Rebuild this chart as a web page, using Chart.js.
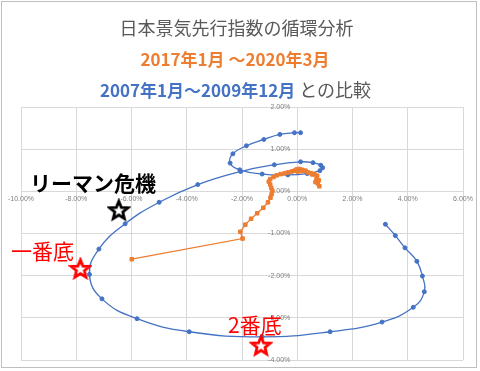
<!DOCTYPE html>
<html><head><meta charset="utf-8">
<script src="https://cdn.jsdelivr.net/npm/chart.js@4/dist/chart.umd.min.js"></script>
<style>
html,body{margin:0;padding:0;background:#fff;}
#wrap{position:relative;width:480px;height:371px;overflow:hidden;font-family:"Noto Sans CJK JP","Noto Sans",sans-serif;}
#frame{position:absolute;left:1px;top:1px;width:476px;height:367px;border:1px solid #bfbfbf;box-sizing:border-box;}
canvas{position:absolute;left:0;top:0;}
.t{position:absolute;white-space:nowrap;line-height:1;}
</style></head>
<body>
<div id="wrap">
  <div id="frame"></div>
  <canvas id="c" width="480" height="371"></canvas>
  <div class="t" style="left:0;width:473px;text-align:center;top:18px;font-size:18px;color:#595959;">日本景気先行指数の循環分析</div>
  <div class="t" style="left:0;width:470px;text-align:center;top:50px;font-size:17px;font-weight:bold;color:#ED7D31;">2017年1月 ～2020年3月</div>
  <div class="t" style="left:0;width:471px;text-align:center;top:80px;font-size:17px;"><span style="color:#4472C4;font-weight:bold;">2007年1月～2009年12月</span><span style="color:#595959;font-size:18px;"> との比較</span></div>
  <div class="t" style="left:30px;top:172px;font-size:21px;font-weight:bold;color:#000;">リーマン危機</div>
  <div class="t" style="left:11px;top:240px;font-size:21px;color:#FF0000;">一番底</div>
  <div class="t" style="left:228px;top:314px;font-size:21px;color:#FF0000;">2番底</div>
</div>
<script>
// 2007年1月～2009年12月 (blue)
const blueX = [0.12,-0.10,-0.63,-1.21,-1.84,-2.33,-2.43,-2.08,-1.27,-0.34,0.36,0.82,0.92,0.85,0.57,0.12,-0.83,-2.05,-3.60,-5.00,-6.23,-7.18,-7.52,-7.07,-5.80,-3.91,-1.27,1.19,3.07,4.20,4.60,4.53,4.33,3.90,3.55,3.19];
const blueY = [1.39,1.39,1.35,1.23,1.08,0.89,0.67,0.51,0.41,0.39,0.42,0.49,0.56,0.62,0.68,0.70,0.63,0.47,0.16,-0.26,-0.77,-1.37,-1.97,-2.55,-3.02,-3.33,-3.45,-3.33,-3.10,-2.75,-2.38,-2.01,-1.66,-1.34,-1.05,-0.78];
// 2017年1月～2020年3月 (orange)
const orangeX = [0.80,0.74,0.66,0.78,0.70,0.72,0.62,0.55,0.50,0.38,0.30,0.18,0.08,-0.02,0.06,0.16,0.02,-0.10,-0.20,-0.32,-0.45,-0.60,-0.74,-0.86,-0.98,-1.03,-0.98,-0.94,-0.90,-0.93,-0.97,-1.06,-1.23,-1.45,-1.67,-1.88,-2.06,-1.98,-5.99];
const orangeY = [0.12,0.19,0.22,0.26,0.31,0.37,0.41,0.40,0.43,0.45,0.49,0.51,0.53,0.52,0.50,0.48,0.47,0.49,0.47,0.45,0.43,0.41,0.38,0.34,0.29,0.23,0.16,0.08,0.01,-0.07,-0.15,-0.26,-0.39,-0.52,-0.65,-0.79,-0.96,-1.12,-1.61];
// annotation stars
const blackStarX = [-6.46];
const blackStarY = [-0.45];
const redStarX = [-7.85,-1.31];
const redStarY = [-1.84,-3.66];
// axis ticks
const xTickMin = -10, xTickMax = 6, xTickStep = 2;
const yTickMin = -4, yTickMax = 2, yTickStep = 1;

function pts(xs, ys){ return xs.map((x,i)=>({x:x, y:ys[i]})); }
function starImg(color){
  const c = document.createElement('canvas');
  c.width = 24; c.height = 24;
  const g = c.getContext('2d');
  const cx = 12, cy = 12.5, R = 9.5, r = 4.2;
  g.beginPath();
  for (let i=0;i<10;i++){
    const ang = -Math.PI/2 + i*Math.PI/5;
    const rr = (i%2===0)?R:r;
    const px = cx + rr*Math.cos(ang), py = cy + rr*Math.sin(ang);
    if(i===0) g.moveTo(px,py); else g.lineTo(px,py);
  }
  g.closePath();
  g.fillStyle = '#fff'; g.fill();
  g.lineWidth = 2.8; g.lineJoin='miter'; g.strokeStyle = color; g.stroke();
  return c;
}
const fmt = v => v.toFixed(2) + '%';
new Chart(document.getElementById('c'), {
  type: 'scatter',
  data: { datasets: [
    { label:'blackStar', data: pts(blackStarX, blackStarY), pointStyle: starImg('#000000'), pointRadius: 10, showLine:false, order:0 },
    { label:'redStar', data: pts(redStarX, redStarY), pointStyle: starImg('#FF0000'), pointRadius: 10, showLine:false, order:0 },
    { label:'2017年1月～2020年3月', data: pts(orangeX, orangeY), showLine:true, tension:0,
      borderColor:'#ED7D31', backgroundColor:'#ED7D31', borderWidth:1.3,
      pointStyle:'rect', pointRadius:2.5, pointBorderWidth:1, pointBorderColor:'#ED7D31', pointBackgroundColor:'#ED7D31', order:1 },
    { label:'2007年1月～2009年12月', data: pts(blueX, blueY), showLine:true, tension:0.45,
      borderColor:'#4472C4', backgroundColor:'#4472C4', borderWidth:1.3,
      pointStyle:'circle', pointRadius:2, pointBorderWidth:1, pointBorderColor:'#4472C4', pointBackgroundColor:'#4472C4', order:2 }
  ]},
  options: {
    responsive:false, animation:false, devicePixelRatio:1,
    layout:{ padding:{ left:21, right:17, top:107, bottom:9 } },
    plugins:{ legend:{display:false}, tooltip:{enabled:false}, title:{display:false} },
    scales:{
      x:{ type:'linear', position:{y:0}, min:xTickMin, max:xTickMax,
          ticks:{ stepSize:xTickStep, callback:fmt, font:{size:7, family:'"Liberation Sans", sans-serif'}, color:'#7f7f7f', padding:4, maxRotation:0, autoSkip:false },
          grid:{ color:'#d9d9d9', lineWidth:1, drawTicks:false }, border:{display:false} },
      y:{ type:'linear', position:{x:0}, min:yTickMin, max:yTickMax,
          ticks:{ stepSize:yTickStep, callback:v => fmt(v) + '\u2003', font:{size:7, family:'"Liberation Sans", sans-serif'}, color:'#7f7f7f', padding:4, autoSkip:false },
          grid:{ color:'#d9d9d9', lineWidth:1, drawTicks:false }, border:{display:false} }
    }
  }
});
</script>
</body></html>
